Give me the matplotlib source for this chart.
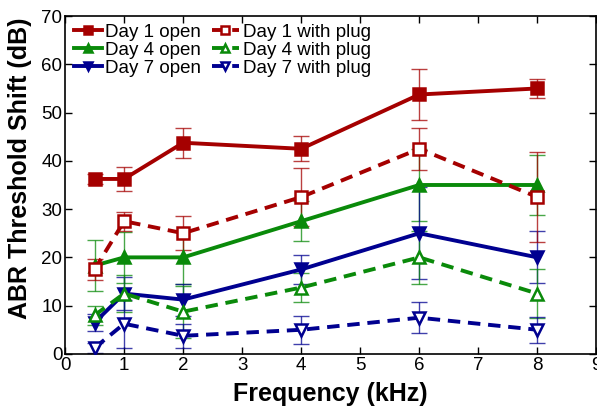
import numpy as np
import matplotlib.pyplot as plt

plt.rcParams['font.family'] = ['Liberation Sans', 'DejaVu Sans']

freq = [0.5, 1, 2, 4, 6, 8]

day1_open = [36.25, 36.25, 43.75, 42.5, 53.75, 55.0]
day1_open_err = [1.0, 2.4, 3.1, 2.6, 5.3, 2.0]
day1_plug = [17.5, 27.5, 25.0, 32.5, 42.5, 32.5]
day1_plug_err = [2.2, 2.0, 3.5, 6.0, 4.3, 9.3]

day4_open = [18.3, 20.0, 20.0, 27.5, 35.0, 35.0]
day4_open_err = [5.3, 5.3, 5.5, 4.2, 7.5, 6.2]
day4_plug = [8.0, 12.5, 8.75, 13.75, 20.0, 12.5]
day4_plug_err = [2.0, 3.8, 5.4, 3.0, 5.5, 5.0]

day7_open = [6.5, 12.5, 11.25, 17.5, 25.0, 20.0]
day7_open_err = [1.8, 3.5, 3.3, 3.0, 9.5, 5.4]
day7_plug = [1.25, 6.25, 3.75, 5.0, 7.5, 5.0]
day7_plug_err = [1.0, 5.0, 2.5, 2.9, 3.2, 2.7]

red = '#a50000'
green = '#0a8a0a'
blue = '#000090'

fig = plt.figure(figsize=(5.97, 4.12), dpi=100)
ax = fig.add_axes([0.109, 0.141, 0.89, 0.82])

series = [
    (day1_open, day1_open_err, red, 's', '-', True, 'Day 1 open'),
    (day4_open, day4_open_err, green, '^', '-', True, 'Day 4 open'),
    (day7_open, day7_open_err, blue, 'v', '-', True, 'Day 7 open'),
    (day1_plug, day1_plug_err, red, 's', '--', False, 'Day 1 with plug'),
    (day4_plug, day4_plug_err, green, '^', '--', False, 'Day 4 with plug'),
    (day7_plug, day7_plug_err, blue, 'v', '--', False, 'Day 7 with plug'),
]

handles = {}
for vals, err, col, mk, ls, filled, lab in series:
    ax.errorbar(freq, vals, yerr=err, fmt='none', ecolor=col, elinewidth=1.0,
                capsize=6, capthick=1.0, alpha=0.75, zorder=2)
    h, = ax.plot(freq, vals, color=col, linestyle=ls, linewidth=2.8,
                 marker=mk, markersize=8, markeredgewidth=1.8,
                 markerfacecolor=col if filled else 'white',
                 markeredgecolor=col, dashes=(3.2, 2) if ls == '--' else (None, None),
                 zorder=3, label=lab)
    handles[lab] = h

order = ['Day 1 open', 'Day 4 open', 'Day 7 open',
         'Day 1 with plug', 'Day 4 with plug', 'Day 7 with plug']
ax.legend([handles[k] for k in order], order, loc='upper left', ncol=2,
          frameon=False, fontsize=13.5, handlelength=1.45, handletextpad=0.2,
          columnspacing=0.55, labelspacing=0.05, borderaxespad=0.1,
          markerscale=0.75, bbox_to_anchor=(0.0, 1.005))

ax.set_xlim(0, 9)
ax.set_ylim(0, 70)
ax.set_xticks(range(0, 10))
ax.set_yticks(range(0, 80, 10))
ax.tick_params(direction='in', top=True, right=True, labelsize=13.5,
               length=5, width=1, pad=2)
for s in ax.spines.values():
    s.set_linewidth(1.2)

ax.set_xlabel('Frequency (kHz)', fontsize=18, fontweight='bold', labelpad=6)
ax.set_ylabel('ABR Threshold Shift (dB)', fontsize=18, fontweight='bold')
ax.yaxis.set_label_coords(-0.062, 0.55)

fig.savefig('out.png', dpi=100)
